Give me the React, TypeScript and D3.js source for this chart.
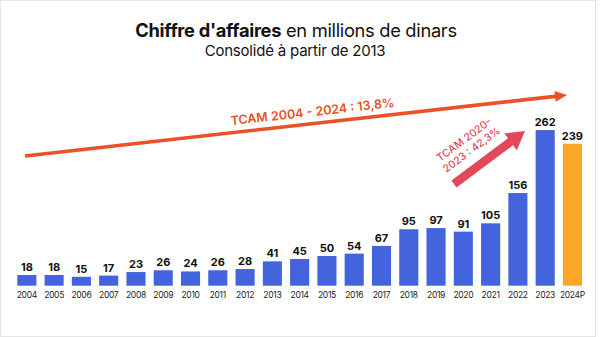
import React from "react";
import * as d3 from "d3";

const years = ["2004","2005","2006","2007","2008","2009","2010","2011","2012","2013","2014","2015","2016","2017","2018","2019","2020","2021","2022","2023","2024P"];
const revenue = [18,18,15,17,23,26,24,26,28,41,45,50,54,67,95,97,91,105,156,262,239];
const projected = ["2024P"];
const titleBold = "Chiffre d'affaires";
const titleRest = " en millions de dinars";
const subtitle = "Consolidé à partir de 2013";
const trendLabel = "TCAM 2004 - 2024 : 13,8%";
const recentLabel = ["TCAM 2020-", "2023 : 42,3%"];

const W = 600, H = 337;
const FONT = "Inter, 'Open Sans', sans-serif";
const BLUE = "#4364dc";
const ORANGE = "#fba62a";
const TREND = "#ea5128";
const RECENT = "#e2485a";

function arrowPath(x1: number, y1: number, x2: number, y2: number, sw: number, hl: number, hw: number) {
  const a = Math.atan2(y2 - y1, x2 - x1);
  const len = Math.hypot(x2 - x1, y2 - y1);
  const pt = (u: number, v: number) => {
    const x = x1 + u * Math.cos(a) - v * Math.sin(a);
    const y = y1 + u * Math.sin(a) + v * Math.cos(a);
    return `${x.toFixed(2)},${y.toFixed(2)}`;
  };
  const b = len - hl;
  return `M${pt(0, -sw / 2)}L${pt(b, -sw / 2)}L${pt(b, -hw / 2)}L${pt(len, 0)}L${pt(b, hw / 2)}L${pt(b, sw / 2)}L${pt(0, sw / 2)}Z`;
}

export default function App() {
  const x = d3.scaleBand<string>().domain(years).range([17.3, 582]).paddingInner(0.3).paddingOuter(0);
  const y = d3.scaleLinear().domain([0, 300]).range([285.7, 107.5]);

  const t1 = [25, 156], t2 = [567, 95];
  const tAng = (Math.atan2(t2[1] - t1[1], t2[0] - t1[0]) * 180) / Math.PI;
  const r1 = [454, 184], r2 = [525, 131];
  const rAng = (Math.atan2(r2[1] - r1[1], r2[0] - r1[0]) * 180) / Math.PI;

  return (
    <svg width={W} height={H} style={{ position: "fixed", left: 0, top: 0, background: "#fff" }} fontFamily={FONT}>
      <rect x={0.5} y={0.5} width={595} height={H - 1} fill="#fff" stroke="#e6e6e6" strokeWidth={1} />
      <text x={296} y={37} textAnchor="middle" fontSize={18.3} fill="#111" letterSpacing={-0.3}>
        <tspan fontWeight={700}>{titleBold}</tspan>
        <tspan fontWeight={400}>{titleRest}</tspan>
      </text>
      <text x={295} y={55.5} textAnchor="middle" fontSize={15} fill="#111" letterSpacing={-0.2}>{subtitle}</text>

      {years.map((yr, i) => {
        const v = revenue[i];
        const bx = x(yr)!;
        return (
          <g key={yr}>
            <rect x={bx} y={y(v)} width={x.bandwidth()} height={y(0) - y(v)} fill={projected.includes(yr) ? ORANGE : BLUE} />
            <text x={bx + x.bandwidth() / 2} y={y(v) - 4} textAnchor="middle" fontSize={11} fontWeight={700} fill="#111">{v}</text>
            <text x={bx + x.bandwidth() / 2} y={297.5} textAnchor="middle" fontSize={8.5} fill="#222" letterSpacing={-0.3}>{yr}</text>
          </g>
        );
      })}

      <path d={arrowPath(t1[0], t1[1], t2[0], t2[1], 3.6, 12, 11)} fill={TREND} />
      <text transform={`translate(313,116) rotate(${tAng})`} textAnchor="middle" fontSize={12.5} fontWeight={600} fill={TREND}>{trendLabel}</text>

      <path d={arrowPath(r1[0], r1[1], r2[0], r2[1], 8.5, 18, 21)} fill={RECENT} />
      <text transform={`translate(468,145) rotate(${rAng})`} textAnchor="middle" fontSize={10.5} fontWeight={500} fill={RECENT}>
        <tspan x={0} dy={-3}>{recentLabel[0]}</tspan>
        <tspan x={0} dy={12.5}>{recentLabel[1]}</tspan>
      </text>
    </svg>
  );
}
